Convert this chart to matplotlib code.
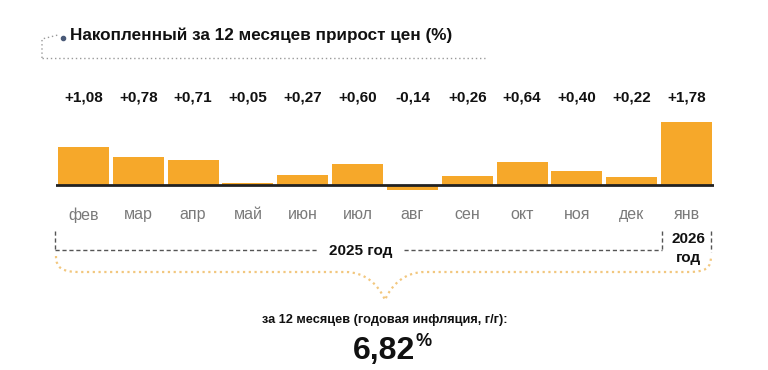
import numpy as np
import matplotlib.pyplot as plt
from matplotlib.path import Path
from matplotlib.patches import PathPatch

plt.rcParams['font.family'] = ['Liberation Sans', 'DejaVu Sans']

months = ['фев', 'мар', 'апр', 'май', 'июн', 'июл', 'авг', 'сен', 'окт', 'ноя', 'дек', 'янв']
values = [1.08, 0.78, 0.71, 0.05, 0.27, 0.60, -0.14, 0.26, 0.64, 0.40, 0.22, 1.78]
labels = ['+1,08', '+0,78', '+0,71', '+0,05', '+0,27', '+0,60', '-0,14', '+0,26', '+0,64', '+0,40', '+0,22', '+1,78']
title = 'Накопленный за 12 месяцев прирост цен (%)'
total = '6,82'

W, H = 768, 370
bar_color = '#F6A82A'

fig = plt.figure(figsize=(W / 100, H / 100), dpi=100)

# pixel overlay for decorations
ov = fig.add_axes([0, 0, 1, 1])
ov.set_xlim(0, W)
ov.set_ylim(H, 0)
ov.axis('off')

# bar axes: baseline at y=185 px, 35.4 px per unit
ppu = 35.4
top_px, bot_px = 110, 195
ax = fig.add_axes([56 / W, 1 - bot_px / H, (714 - 56) / W, (bot_px - top_px) / H])
ax.set_facecolor('none')
x = np.arange(len(values))
ax.bar(x, values, width=0.93, color=bar_color, zorder=2)
ax.axhline(0, color='#222222', lw=2, zorder=3)
ax.set_xlim(-0.5, len(values) - 0.5)
ax.set_ylim(-(bot_px - 185) / ppu, (185 - top_px) / ppu)
for s in ax.spines.values():
    s.set_visible(False)
ax.set_yticks([])
ax.set_xticks(x)
ax.set_xticklabels(months, fontsize=11.5, color='#7a7a7a')
ax.tick_params(axis='x', length=0, pad=9)
for xi, lab in zip(x, labels):
    ax.text(xi, (185 - 97) / ppu, lab, ha='center', va='center',
            fontsize=11, fontweight='bold', color='#111111', clip_on=False)

# title and its dotted frame
ov.text(70, 35, title, fontsize=12.3, fontweight='bold', va='center', ha='left', color='#111111')
ov.plot([42, 42, 58], [58, 39, 35], ls=(0, (1, 2)), color='#999999', lw=1)
ov.plot([42, 485], [58, 58], ls=(0, (1, 2)), color='#999999', lw=1)
ov.plot([63], [38], 'o', ms=3, color='#4a5a78')

# year brackets
dash = dict(ls=(0, (3, 2)), color='#555555', lw=1)
ov.plot([55, 55], [231, 250], **dash)
ov.plot([55, 318], [250, 250], **dash)
ov.plot([404, 662], [250, 250], **dash)
ov.plot([662, 662], [231, 250], **dash)
ov.plot([711, 711], [231, 252], **dash)
ov.text(361, 251, '2025 год', fontsize=11, fontweight='bold', ha='center', va='center', color='#111111')
ov.text(688, 239, '2026', fontsize=11, fontweight='bold', ha='center', va='center', color='#111111')
ov.text(688, 258, 'год', fontsize=11, fontweight='bold', ha='center', va='center', color='#111111')

# orange brace
verts = [(56, 256), (56, 268), (62, 272), (80, 272),
         (345, 272), (365, 272), (378, 284), (385, 300),
         (392, 284), (405, 272), (425, 272),
         (688, 272), (706, 272), (711, 268), (711, 256)]
codes = [Path.MOVETO, Path.CURVE4, Path.CURVE4, Path.CURVE4,
         Path.LINETO, Path.CURVE4, Path.CURVE4, Path.CURVE4,
         Path.CURVE4, Path.CURVE4, Path.CURVE4,
         Path.LINETO, Path.CURVE4, Path.CURVE4, Path.CURVE4]
ov.add_patch(PathPatch(Path(verts, codes), fill=False, ec='#F2C77E', lw=1.6, ls=(0, (1, 1.6))))

# bottom summary
ov.text(385, 320, 'за 12 месяцев (годовая инфляция, г/г):', fontsize=9.2, fontweight='bold',
        ha='center', va='center', color='#111111')
ov.text(415, 351, total, fontsize=23, fontweight='bold', ha='right', va='center', color='#111111')
ov.text(416, 341, '%', fontsize=13, fontweight='bold', ha='left', va='center', color='#111111')

fig.savefig('out.png', dpi=100, facecolor='white')
